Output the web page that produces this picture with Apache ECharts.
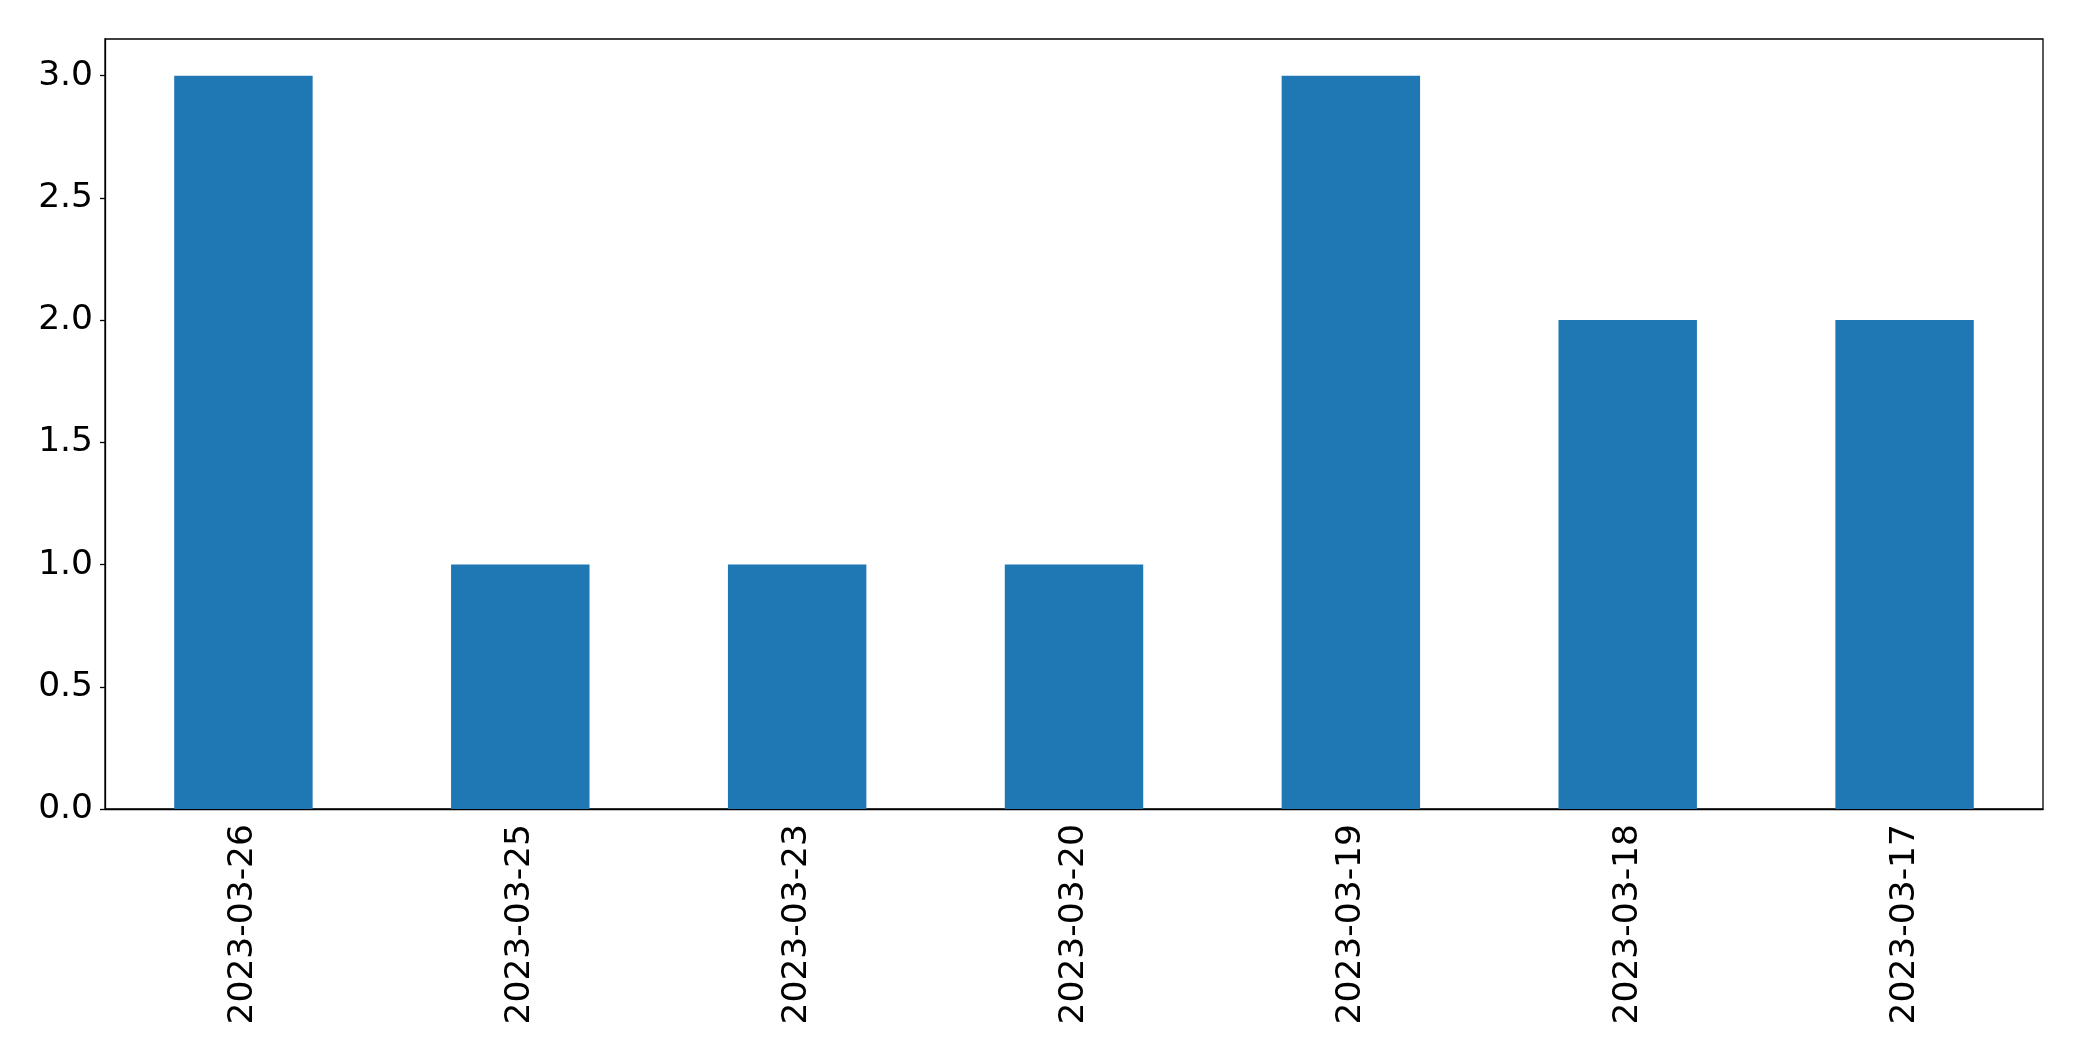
<!DOCTYPE html>
<html>
<head>
<meta charset="utf-8">
<script src="https://cdn.jsdelivr.net/npm/echarts@6/dist/echarts.min.js"></script>
<style>html,body{margin:0;padding:0;background:#fff}#c{width:2082px;height:1061px}</style>
</head>
<body>
<div id="c"></div>
<script>
const categories = ["2023-03-26","2023-03-25","2023-03-23","2023-03-20","2023-03-19","2023-03-18","2023-03-17"];
const values = [3, 1, 1, 1, 3, 2, 2];
const yTicks = [0, 0.5, 1, 1.5, 2, 2.5, 3];

const chart = echarts.init(document.getElementById('c'), null, {renderer: 'canvas'});
const font = '"DejaVu Sans", sans-serif';
chart.setOption({
  animation: false,
  grid: {left: 105, right: 39, top: 39, bottom: 252, show: true, borderColor: '#000', borderWidth: 1.3, backgroundColor: 'transparent'},
  xAxis: {
    type: 'category',
    data: categories,
    axisLine: {lineStyle: {color: '#000', width: 1.3}},
    axisTick: {alignWithLabel: true, length: 5, lineStyle: {color: '#000', width: 1.3}},
    axisLabel: {rotate: 90, fontSize: 34.5, color: '#000', fontFamily: font, margin: 15}
  },
  yAxis: {
    type: 'value',
    min: 0, max: 3.15, interval: 0.5,
    splitLine: {show: false},
    axisLine: {show: true, lineStyle: {color: '#000', width: 1.3}},
    axisTick: {show: true, length: 5, lineStyle: {color: '#000', width: 1.3}, customValues: yTicks},
    axisLabel: {fontSize: 34.5, color: '#000', fontFamily: font, margin: 12, customValues: yTicks,
      formatter: v => v.toFixed(1)}
  },
  series: [{
    type: 'bar',
    data: values,
    barWidth: '50%',
    itemStyle: {color: '#1f77b4'}
  }]
});
</script>
</body>
</html>
